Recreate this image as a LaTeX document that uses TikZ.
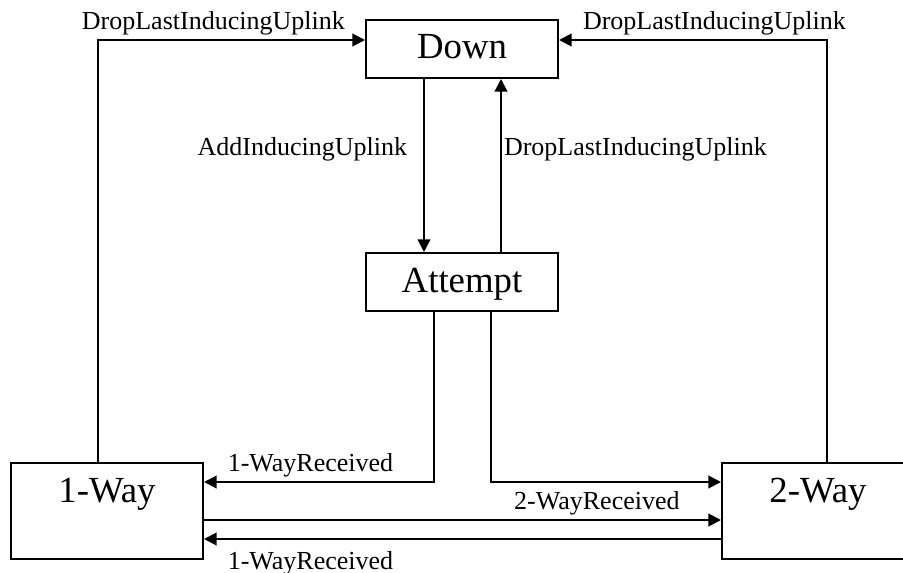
\documentclass[tikz,border=0pt]{standalone}
\usepackage{fontspec}
\setmainfont{Liberation Serif}
\usetikzlibrary{positioning}
\usetikzlibrary{calc,arrows.meta}

\begin{document}
\begin{tikzpicture}[x=0.5pt, y=-0.5pt,
    state/.style={draw, line width=1pt, inner sep=0pt, minimum width=96pt,
      text height=19.5pt, text depth=9.5pt, font=\fontsize{18.4}{22}\selectfont},
    lbl/.style={inner sep=2pt, font=\fontsize{13}{15}\selectfont},
    tr/.style={-{Triangle[length=6.3pt,width=6.3pt]}, line width=1pt}]
    \useasboundingbox (0,0) rectangle (903,572);
    \clip (0,0) rectangle (903,572);

    \node[state, anchor=north] (down) at (462,19) {Down};
    \node[state] [below=86.5pt of down] (attempt) {Attempt};
    \node[state, text depth=28.5pt, anchor=north] (w1) at (107,462) {1-Way};
    \node[state, text depth=28.5pt, anchor=north] (w2) at (818,462) {2-Way};

    \draw[tr] ($(w1.north)+(-9,0)$) |- ($(down.west)+(0,-9)$)
      node[lbl, above, pos=0.716] {DropLastInducingUplink};
    \draw[tr] ($(w2.north)+(9,0)$) |- ($(down.east)+(0,-9)$)
      node[lbl, above, pos=0.71] {DropLastInducingUplink};

    \draw[tr] ($(down.south)+(-38,0)$) -- ($(attempt.north)+(-38,0)$)
      node[lbl, left, xshift=-6pt, pos=0.405] {AddInducingUplink};
    \draw[tr] ($(attempt.north)+(39,0)$) -- ($(down.south)+(39,0)$)
      node[lbl, right, inner sep=1pt, pos=0.595] {DropLastInducingUplink};

    \draw[tr] ($(attempt.south)+(-28.5,0)$) |- ($(w1.east)+(0,-29)$)
      node[lbl, above, pos=0.768] {1-WayReceived};
    \draw[tr] ($(attempt.south)+(28.5,0)$) |- ($(w2.west)+(0,-29)$);

    \draw[tr] ($(w1.east)+(0,9)$) -- ($(w2.west)+(0,9)$)
      node[lbl, above, pos=0.76] {2-WayReceived};
    \draw[tr] ($(w2.west)+(0,28)$) -- ($(w1.east)+(0,28)$)
      node[lbl, below, yshift=-3.5pt, pos=0.794] {1-WayReceived};

  \end{tikzpicture}
\end{document}
